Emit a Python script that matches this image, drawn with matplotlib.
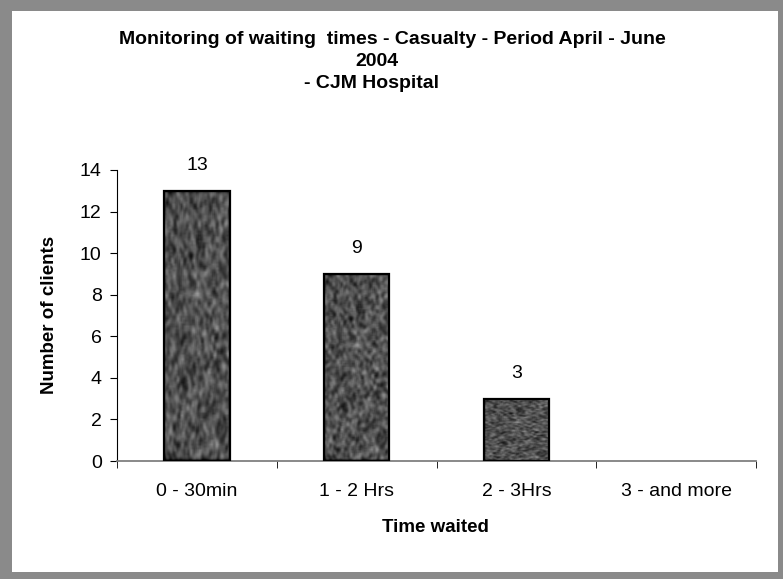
import matplotlib.pyplot as plt
import numpy as np
from matplotlib.patches import Rectangle

# Waiting times data
categories = ['0 - 30min', '1 - 2 Hrs', '2 - 3Hrs', '3 - and more']
clients = [13, 9, 3, 0]
title_lines = ['Monitoring of waiting  times - Casualty - Period April - June', '2004', '- CJM Hospital']

plt.rcParams['font.family'] = ['Liberation Sans', 'DejaVu Sans']

W, H = 783, 579
fig = plt.figure(figsize=(W / 100, H / 100), dpi=100, facecolor='#8a8a8a')

# White panel inside the grey frame
fig.patches.append(Rectangle((12 / W, 1 - 572 / H), (778 - 12) / W, (572 - 11) / H,
                             transform=fig.transFigure, facecolor='white',
                             edgecolor='none', zorder=-5))

ax = fig.add_axes([117 / W, 1 - 461 / H, (756 - 117) / W, (461 - 170) / H])
ax.set_facecolor('none')

x = np.arange(len(categories))
bars = ax.bar(x, clients, width=0.41, color='#2a2a2a', edgecolor='none', zorder=2)

# Grainy texture on the bars, like the original fill picture
rng = np.random.default_rng(3)
noise = rng.random((140, 70))
k = np.ones(3) / 3
for _ in range(2):
    noise = np.apply_along_axis(lambda r: np.convolve(r, k, mode='same'), 1, noise)
    noise = np.apply_along_axis(lambda c: np.convolve(c, k, mode='same'), 0, noise)
noise = (noise - noise.mean()) / noise.std()
for b in bars:
    if b.get_height() <= 0:
        continue
    im = ax.imshow(noise, cmap='gray', vmin=-3.5, vmax=8, aspect='auto',
                   extent=(b.get_x(), b.get_x() + b.get_width(), 0, b.get_height()),
                   zorder=2.5, interpolation='bilinear')
    im.set_clip_path(b)
    ax.add_patch(Rectangle((b.get_x(), 0), b.get_width(), b.get_height(),
                           facecolor='none', edgecolor='black', linewidth=1.6, zorder=3))

for xi, v in zip(x, clients):
    if v > 0:
        ax.annotate(str(v), (xi, v), xytext=(0, 12), textcoords='offset points',
                    ha='center', va='bottom', fontsize=14)

ax.set_xlim(-0.5, len(categories) - 0.5)
ax.set_ylim(0, 14)
ax.set_yticks(range(0, 15, 2))
ax.set_xticks(x)
ax.set_xticklabels(categories)
ax.set_xticks(np.arange(-0.5, len(categories), 1), minor=True)
ax.tick_params(axis='x', which='major', length=0, pad=16, labelsize=14)
ax.tick_params(axis='x', which='minor', length=5, direction='out', color='black')
ax.tick_params(axis='y', length=5, direction='out', pad=6, labelsize=14)

for s in ['top', 'right']:
    ax.spines[s].set_visible(False)
ax.spines['left'].set_color('black')
ax.spines['bottom'].set_color('#808080')
ax.spines['bottom'].set_linewidth(1.3)

fig.text(50 / W, 1 - 315 / H, 'Number of clients', rotation=90, ha='center', va='center',
         fontsize=13.5, fontweight='bold')
fig.text(435 / W, 1 - 528 / H, 'Time waited', ha='center', va='center',
         fontsize=13.5, fontweight='bold')

for (cx, cy), line in zip([(392, 40), (377, 62), (372, 84)], title_lines):
    fig.text(cx / W, 1 - cy / H, line, ha='center', va='center', fontsize=14, fontweight='bold')

fig.savefig('out.png', dpi=100, facecolor=fig.get_facecolor())
